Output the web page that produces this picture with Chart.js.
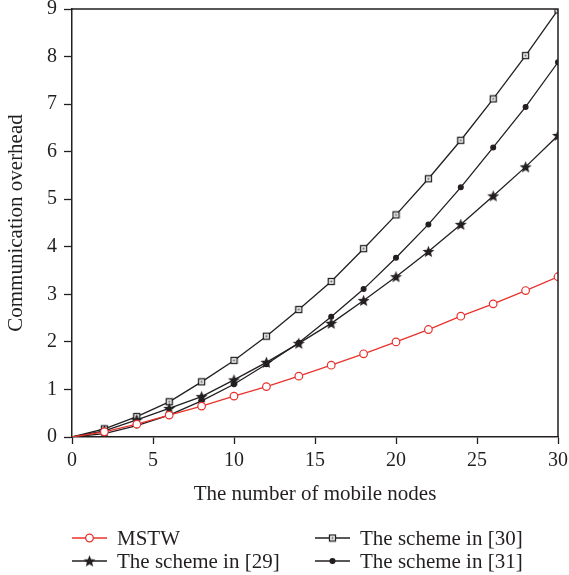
<!DOCTYPE html>
<html>
<head>
<meta charset="utf-8">
<script src="https://cdn.jsdelivr.net/npm/chart.js@4"></script>
<style>
  html, body { margin: 0; padding: 0; background: #fff; }
  #wrap { width: 569px; height: 575px; position: relative; }
</style>
</head>
<body>
<div id="wrap"><canvas id="chart"></canvas></div>
<script>
// values
const nodes = [0, 2, 4, 6, 8, 10, 12, 14, 16, 18, 20, 22, 24, 26, 28, 30];
const mstw = [0, 0.11, 0.27, 0.46, 0.65, 0.86, 1.06, 1.28, 1.51, 1.75, 2.00, 2.26, 2.54, 2.80, 3.08, 3.37];
const scheme29 = [0, 0.13, 0.36, 0.60, 0.85, 1.20, 1.57, 1.97, 2.39, 2.87, 3.37, 3.90, 4.47, 5.07, 5.68, 6.34];
const scheme30 = [0, 0.17, 0.43, 0.74, 1.16, 1.61, 2.12, 2.68, 3.27, 3.96, 4.67, 5.43, 6.24, 7.11, 8.02, 8.98];
const scheme31 = [0, 0.07, 0.24, 0.46, 0.76, 1.11, 1.53, 1.98, 2.53, 3.11, 3.77, 4.47, 5.25, 6.09, 6.94, 7.88];
const xTicks = [0, 5, 10, 15, 20, 25, 30];
const yTicks = [0, 1, 2, 3, 4, 5, 6, 7, 8, 9];

const RED = '#e8322c';
const INK = '#231f20';
const FONT = '"Liberation Serif", "DejaVu Serif", serif';

// marker images
function makeStar() {
    const c = document.createElement('canvas');
    c.width = 13; c.height = 13;
    const g = c.getContext('2d');
    g.fillStyle = INK;
    g.beginPath();
    for (let i = 0; i < 10; i++) {
        const r = i % 2 === 0 ? 6.3 : 2.7;
        const a = -Math.PI / 2 + i * Math.PI / 5;
        g.lineTo(6.5 + r * Math.cos(a), 7 + r * Math.sin(a));
    }
    g.closePath();
    g.fill();
    return c;
}
function makeSquare() {
    const c = document.createElement('canvas');
    c.width = 9; c.height = 9;
    const g = c.getContext('2d');
    g.fillStyle = '#fff';
    g.fillRect(1, 1, 7, 7);
    g.strokeStyle = INK;
    g.lineWidth = 1.3;
    g.strokeRect(1.5, 1.5, 6, 6);
    g.fillStyle = '#666';
    g.fillRect(3.5, 3.5, 2, 2);
    return c;
}
const starImg = makeStar();
const squareImg = makeSquare();

function radii(r) {
    return nodes.map((n, i) => (i === 0 ? 0 : r));
}

const series = [
    { label: 'MSTW', data: mstw, color: RED, style: 'circle', radius: 3.8, fill: '#fff', col: 0, row: 0 },
    { label: 'The scheme in [29]', data: scheme29, color: INK, style: starImg, radius: 5, col: 0, row: 1 },
    { label: 'The scheme in [30]', data: scheme30, color: INK, style: squareImg, radius: 4, col: 1, row: 0 },
    { label: 'The scheme in [31]', data: scheme31, color: INK, style: 'circle', radius: 2.4, fill: INK, col: 1, row: 1 }
];

const frameAndLegend = {
    id: 'frameAndLegend',
    afterDraw(chart) {
        const ctx = chart.ctx;
        const a = chart.chartArea;
        ctx.save();
        ctx.strokeStyle = INK;
        ctx.lineWidth = 1.5;
        ctx.beginPath();
        ctx.moveTo(a.left, a.top);
        ctx.lineTo(a.right, a.top);
        ctx.lineTo(a.right, a.bottom);
        ctx.stroke();

        // two-column legend under the axis title
        const cols = [72, 315];
        const rows = [538, 561];
        ctx.font = '21px ' + FONT;
        ctx.textBaseline = 'middle';
        series.forEach((s) => {
            const lx = cols[s.col], ly = rows[s.row];
            ctx.strokeStyle = s.color;
            ctx.lineWidth = 1.3;
            ctx.beginPath();
            ctx.moveTo(lx, ly);
            ctx.lineTo(lx + 35, ly);
            ctx.stroke();
            ctx.fillStyle = s.fill || s.color;
            Chart.helpers.drawPoint(ctx, {
                pointStyle: s.style, radius: s.radius, rotation: 0, borderWidth: 1.2
            }, lx + 17.5, ly);
            ctx.fillStyle = INK;
            ctx.fillText(s.label, lx + 45, ly + 1);
        });
        ctx.restore();
    }
};

new Chart(document.getElementById('chart'), {
    type: 'line',
    data: {
        labels: nodes,
        datasets: series.map(s => ({
            label: s.label,
            data: s.data.map((v, i) => ({ x: nodes[i], y: v })),
            borderColor: s.color,
            backgroundColor: s.fill || s.color,
            borderWidth: 1.3,
            pointStyle: s.style,
            pointRadius: radii(s.radius),
            pointBorderWidth: 1.2,
            pointBorderColor: s.color,
            pointBackgroundColor: s.fill || s.color,
            tension: 0,
            fill: false
        }))
    },
    options: {
        animation: false,
        responsive: true,
        maintainAspectRatio: false,
        layout: { padding: { top: 9, right: 11, left: 0, bottom: 68 } },
        plugins: {
            legend: { display: false },
            tooltip: { enabled: false }
        },
        scales: {
            x: {
                type: 'linear',
                min: 0,
                max: 30,
                afterBuildTicks: (axis) => { axis.ticks = xTicks.map(v => ({ value: v })); },
                afterFit: (axis) => {
                    axis.height = 70;
                    axis.paddingLeft = 0;
                    axis.paddingRight = 0;
                },
                grid: { drawOnChartArea: false, drawTicks: true, tickLength: 7, color: INK, tickWidth: 1.3 },
                border: { color: INK, width: 1.5 },
                ticks: { color: INK, font: { family: FONT, size: 20 }, padding: 5, maxRotation: 0 },
                title: {
                    display: true,
                    text: 'The number of mobile nodes',
                    color: INK,
                    font: { family: FONT, size: 21 },
                    padding: { top: 3, bottom: 0 }
                }
            },
            y: {
                type: 'linear',
                min: 0,
                max: 9,
                afterBuildTicks: (axis) => { axis.ticks = yTicks.map(v => ({ value: v })); },
                afterFit: (axis) => {
                    axis.width = 72;
                    axis.paddingTop = 0;
                    axis.paddingBottom = 0;
                },
                grid: { drawOnChartArea: false, drawTicks: true, tickLength: 8, color: INK, tickWidth: 1.3 },
                border: { color: INK, width: 1.5 },
                ticks: { color: INK, font: { family: FONT, size: 20 }, padding: 7 },
                title: {
                    display: true,
                    text: 'Communication overhead',
                    color: INK,
                    font: { family: FONT, size: 21 },
                    padding: { top: 4, bottom: 8 }
                }
            }
        }
    },
    plugins: [frameAndLegend]
});
</script>
</body>
</html>
